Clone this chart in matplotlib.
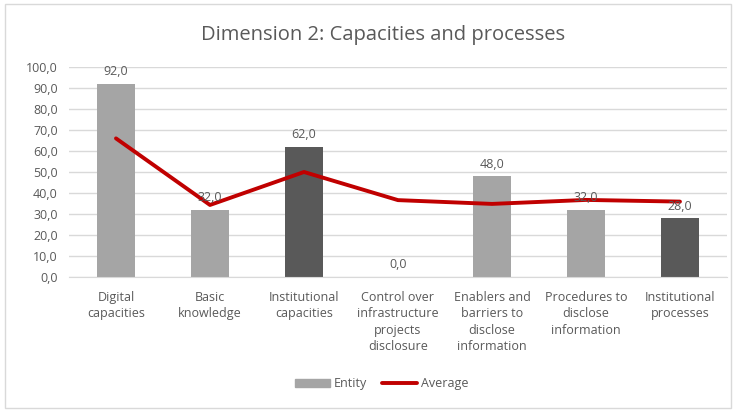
import numpy as np
import matplotlib.pyplot as plt
from matplotlib.patches import Rectangle

plt.rcParams["font.family"] = ["Open Sans", "DejaVu Sans"]

categories = [
    "Digital\ncapacities",
    "Basic\nknowledge",
    "Institutional\ncapacities",
    "Control over\ninfrastructure\nprojects\ndisclosure",
    "Enablers and\nbarriers to\ndisclose\ninformation",
    "Procedures to\ndisclose\ninformation",
    "Institutional\nprocesses",
]
entity = [92.0, 32.0, 62.0, 0.0, 48.0, 32.0, 28.0]
average = [66.0, 34.3, 50.0, 36.6, 34.8, 36.7, 35.9]
bar_colors = ["#A5A5A5", "#A5A5A5", "#595959", "#A5A5A5", "#A5A5A5", "#A5A5A5", "#595959"]
yticks = np.arange(0, 101, 10)

text_color = "#595959"

fig = plt.figure(figsize=(7.37, 4.12), dpi=100)
ax = fig.add_axes([0.0936, 0.3277, 0.8928, 0.5097])

x = np.arange(len(categories))
bars = ax.bar(x, entity, width=0.41, color=bar_colors, zorder=2, label="Entity")
line, = ax.plot(x, average, color="#C00000", linewidth=2.8, zorder=3, label="Average",
                solid_capstyle="round")

for xi, v in zip(x, entity):
    ax.annotate(
        f"{v:.1f}".replace(".", ","),
        (xi, v),
        xytext=(0, 4),
        textcoords="offset points",
        ha="center",
        va="bottom",
        fontsize=9,
        color=text_color,
        zorder=4,
    )

ax.set_xlim(-0.5, len(categories) - 0.5)
ax.set_ylim(0, 100)
ax.set_yticks(yticks)
ax.set_yticklabels([f"{t:.1f}".replace(".", ",") for t in yticks], fontsize=9, color=text_color)
ax.set_xticks(x)
ax.set_xticklabels(categories, fontsize=9, color=text_color, linespacing=1.35, va="top")
ax.tick_params(axis="both", length=0)
ax.tick_params(axis="x", pad=10)
ax.tick_params(axis="y", pad=8)
ax.grid(axis="y", color="#D9D9D9", linewidth=1, zorder=0)
for side in ["top", "right", "left"]:
    ax.spines[side].set_visible(False)
ax.spines["bottom"].set_color("#D9D9D9")
ax.set_axisbelow(True)

fig.text(0.52, 0.915, "Dimension 2: Capacities and processes", ha="center", va="center",
         fontsize=14.5, color=text_color)

entity_handle = Rectangle((0, 0), 1, 1, color="#A5A5A5")
fig.legend(
    [entity_handle, line],
    ["Entity", "Average"],
    loc="center",
    bbox_to_anchor=(0.518, 0.068),
    ncol=2,
    frameon=False,
    fontsize=9,
    labelcolor=text_color,
    handlelength=2.8,
    handleheight=0.6,
    handletextpad=0.3,
    columnspacing=1.2,
)

fig.patches.append(Rectangle((0.007, 0.01), 0.985, 0.98, transform=fig.transFigure,
                             fill=False, edgecolor="#D9D9D9", linewidth=1))

fig.savefig("out.png", dpi=100)
